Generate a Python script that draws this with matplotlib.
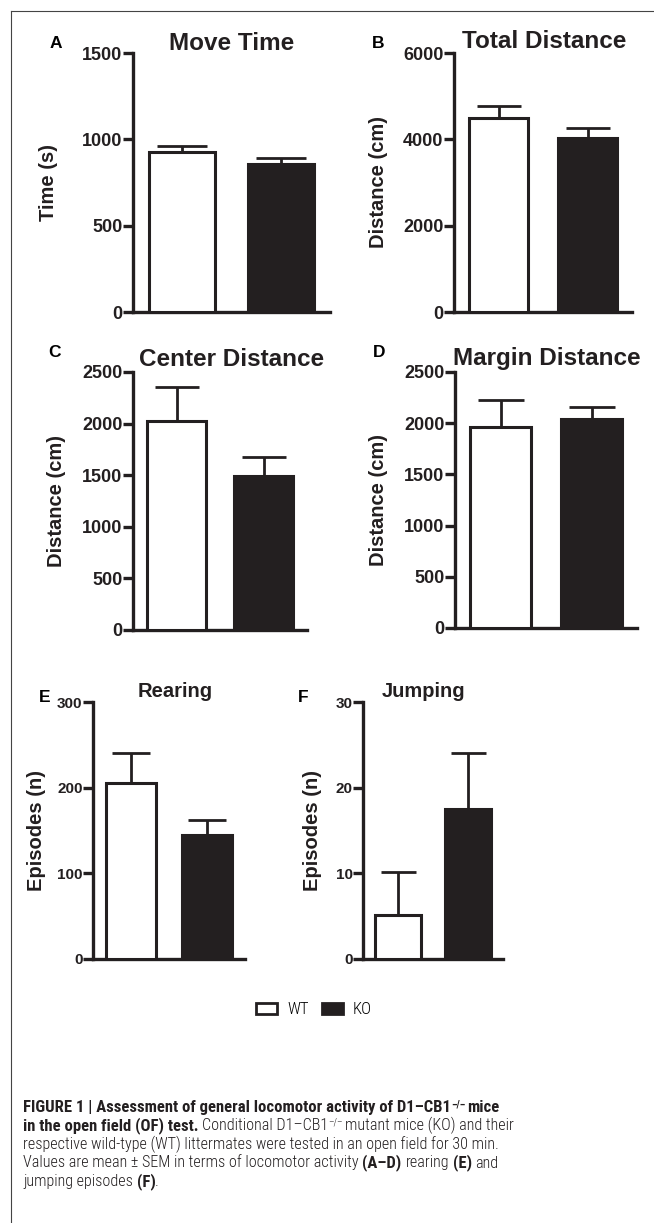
import matplotlib
matplotlib.use('Agg')
import matplotlib.pyplot as plt
from matplotlib import font_manager
from matplotlib.lines import Line2D
from matplotlib.patches import Patch

plt.rcParams['font.family'] = ['Liberation Sans', 'DejaVu Sans']

INK = '#231f20'
W, H = 654, 1223

groups = ['WT', 'KO']
panel_letters = ['A', 'B', 'C', 'D', 'E', 'F']
titles = ['Move Time', 'Total Distance', 'Center Distance',
          'Margin Distance', 'Rearing', 'Jumping']
ylabels = ['Time (s)', 'Distance (cm)', 'Distance (cm)',
           'Distance (cm)', 'Episodes (n)', 'Episodes (n)']
y_max = [1500, 6000, 2500, 2500, 300, 30]
y_step = [500, 2000, 500, 500, 100, 10]

move_time = [925, 855]
move_time_sem = [37, 37]
total_distance = [4500, 4030]
total_distance_sem = [280, 230]
center_distance = [2025, 1490]
center_distance_sem = [330, 190]
margin_distance = [1965, 2040]
margin_distance_sem = [265, 120]
rearing = [205, 145]
rearing_sem = [35, 17]
jumping = [5.1, 17.5]
jumping_sem = [5.0, 6.6]

means = [move_time, total_distance, center_distance,
         margin_distance, rearing, jumping]
sems = [move_time_sem, total_distance_sem, center_distance_sem,
        margin_distance_sem, rearing_sem, jumping_sem]

# layout, in pixels of the 654x1223 picture
boxes = [(133, 53, 330, 312), (454, 53, 632, 312),
         (133, 372, 307, 630), (455, 372, 637, 628),
         (93, 702, 245, 959), (363, 702, 503, 959)]
letter_pos = [(50, 48), (372, 48), (48, 357), (373, 357), (39, 702), (298, 702)]
title_pos = [(232, 50), (544.5, 48), (232, 366), (547, 365), (175, 697), (423.5, 697)]
ylabel_x = [48.5, 378, 56, 378, 36, 313]
tick_size = [13, 13, 13, 13, 11, 11]
title_size = [17.5, 17.5, 17.5, 17.5, 14.5, 14.5]

fig = plt.figure(figsize=(W / 100, H / 100), dpi=100)


def fx(x):
    return x / W


def fy(y):
    return 1 - y / H


for i in range(6):
    left, top, right, bottom = boxes[i]
    ax = fig.add_axes([fx(left), fy(bottom), (right - left) / W, (bottom - top) / H])
    x = range(len(groups))
    ax.bar(x, means[i], width=0.67, color=['white', INK], edgecolor=INK,
           linewidth=2.2, zorder=3)
    capsize = 0.25 * (right - left) / 2 * 0.72
    ax.errorbar(x, means[i], yerr=[[0, 0], sems[i]], fmt='none', ecolor=INK,
                elinewidth=2.0, capsize=capsize, capthick=2.0, zorder=2)
    ax.set_xlim(-0.5, 1.5)
    ax.set_ylim(0, y_max[i])
    ticks = list(range(0, y_max[i] + 1, y_step[i]))
    ax.set_yticks(ticks)
    ax.set_yticklabels([str(t) for t in ticks], fontweight='bold',
                       fontsize=tick_size[i], color=INK)
    ax.set_xticks([])
    ax.tick_params(axis='y', direction='out', length=7, width=2.4, pad=0.5, color=INK)
    for s in ['top', 'right']:
        ax.spines[s].set_visible(False)
    for s in ['left', 'bottom']:
        ax.spines[s].set_linewidth(2.4)
        ax.spines[s].set_color(INK)
    ax.set_ylabel(ylabels[i], fontsize=14.5, fontweight='bold', color=INK, va='center')
    ax.yaxis.set_label_coords((ylabel_x[i] - left) / (right - left), 0.5)
    ax.patch.set_visible(False)

    lx, ly = letter_pos[i]
    fig.text(fx(lx), fy(ly), panel_letters[i], fontsize=12.5, fontweight='bold',
             color='black', ha='left', va='baseline')
    tx, ty = title_pos[i]
    fig.text(fx(tx), fy(ty), titles[i], fontsize=title_size[i], fontweight='bold',
             color=INK, ha='center', va='baseline')

# a narrow Helvetica-like face for the caption, first one that is installed
installed = {}
for f in font_manager.fontManager.ttflist:
    installed.setdefault(f.name, set()).add(f.weight)
cap_name = 'Liberation Sans'
for name in ['Nimbus Sans Narrow', 'Liberation Sans Narrow', 'Roboto Condensed',
             'Archivo Narrow', 'PT Sans Narrow']:
    if name in installed:
        cap_name = name
        break
cap_family = [cap_name, 'Liberation Sans', 'DejaVu Sans']
plain_weight = 300 if 300 in installed.get(cap_name, set()) else 'normal'

# legend
handles = [Patch(facecolor='white', edgecolor=INK, linewidth=2.0),
           Patch(facecolor=INK, edgecolor=INK, linewidth=2.0)]
fig.legend(handles, groups, loc='center', bbox_to_anchor=(fx(314), fy(1010)),
           ncol=2, frameon=False, handlelength=1.25, handleheight=0.65,
           handletextpad=0.6, columnspacing=0.8,
           prop={'family': cap_family, 'weight': plain_weight, 'size': 12})

# frame of the figure page
fig.add_artist(Line2D([fx(11), 1], [fy(11), fy(11)], transform=fig.transFigure,
                      color='#444444', linewidth=0.8))
fig.add_artist(Line2D([fx(11), fx(11)], [fy(11), 0], transform=fig.transFigure,
                      color='#444444', linewidth=0.8))

# caption, written piece by piece so bold and plain runs sit on one line
renderer = fig.canvas.get_renderer()


def text_width(s, weight, size):
    t = fig.text(0, 0, s, fontsize=size, fontweight=weight, family=cap_family)
    w = t.get_window_extent(renderer).width
    t.remove()
    return w


caption = [
    [('FIGURE 1 | Assessment of general locomotor activity of D1–CB1', 'bold', False, False),
     ('–/–', 'bold', True, True), ('mice', 'bold', False, False)],
    [('in the open field (OF) test.', 'bold', False, True),
     ('Conditional D1–CB1', plain_weight, False, False), ('–/–', plain_weight, True, True),
     ('mutant mice (KO) and their', plain_weight, False, False)],
    [('respective wild-type (WT) littermates were tested in an open field for 30 min.',
      plain_weight, False, False)],
    [('Values are mean ± SEM in terms of locomotor activity', plain_weight, False, True),
     ('(A–D)', 'bold', False, True), ('rearing', plain_weight, False, True),
     ('(E)', 'bold', False, True), ('and', plain_weight, False, False)],
    [('jumping episodes', plain_weight, False, True), ('(F)', 'bold', False, False),
     ('.', plain_weight, False, False)],
]
baselines = [1112, 1130.5, 1149, 1167.5, 1186]

# size the plain text so line 3 spans the width it has in the original (477 px),
# and the bold text so line 1 spans its 480 px
cap_size = 12 * 477 / text_width(caption[2][0][0], plain_weight, 12)
bold_size = 12 * 462 / text_width(caption[0][0][0] + ' mice', 'bold', 12)

for line, base in zip(caption, baselines):
    x = 23
    for s, weight, sup, space_after in line:
        size = bold_size if weight == 'bold' else cap_size
        if sup:
            size *= 0.6
        dy = 5 if sup else 0
        t = fig.text(fx(x), fy(base - dy), s, fontsize=size, fontweight=weight,
                     family=cap_family, color=INK, ha='left', va='baseline')
        x += t.get_window_extent(renderer).width
        if space_after:
            x += text_width('x x', weight, size) - text_width('xx', weight, size)

fig.savefig('out.png', dpi=100, facecolor='white')
